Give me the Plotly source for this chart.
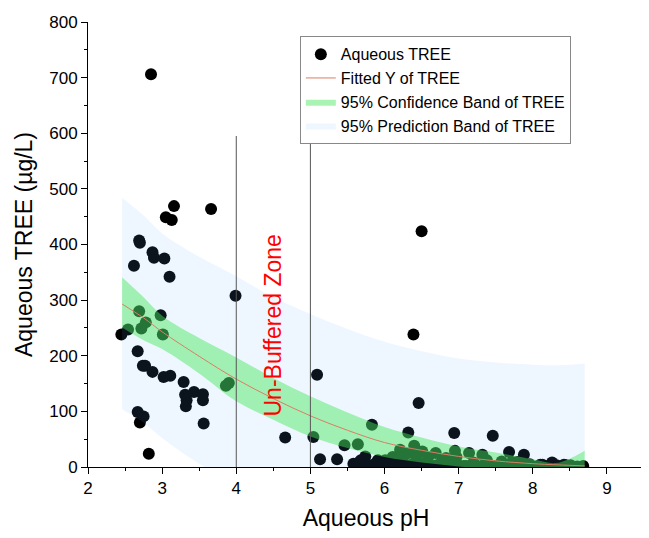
import plotly.graph_objects as go

# ---- measured samples: aqueous pH vs TREE (ug/L) ----
ph = [2.85, 3.16, 3.05, 3.13, 3.66, 2.69, 2.70, 2.87, 2.89, 3.03, 2.62, 3.10, 3.99,
      2.69, 2.54, 2.45, 2.72, 2.78, 2.98, 3.01,
      2.67, 2.74, 2.77, 2.87, 3.02, 3.11, 3.29, 3.31, 3.43, 3.55, 3.55, 3.33, 3.32,
      3.56, 2.67, 2.75, 2.70, 2.82, 3.86, 3.90,
      4.66, 5.04, 5.09, 5.13, 5.36, 5.46, 5.64, 5.83,
      6.39, 6.50, 6.46, 6.32, 6.94, 7.46, 7.68, 7.88, 8.26, 8.68,
      6.40, 6.21, 6.51, 6.69, 6.95, 6.97, 7.14, 7.32, 7.38, 7.58, 7.20, 6.83, 6.59,
      6.57, 6.78, 7.72, 7.96, 8.10, 6.42, 6.30, 6.11, 7.79, 8.13, 8.42, 8.51, 8.32,
      6.25, 6.44,
      5.58, 5.68, 5.74, 5.65, 5.87, 5.91, 6.01, 6.06, 6.16, 6.25, 6.35, 5.97, 5.82,
      6.50, 6.64, 6.83, 7.07, 7.31, 7.55, 7.79, 5.64, 5.90, 6.00,
      5.70, 5.78, 5.95, 6.05, 6.12, 6.20, 6.28, 6.38, 6.45, 6.55, 6.62, 6.70, 6.75,
      6.88, 6.92, 7.00, 7.10, 7.18, 7.25, 7.40, 7.48, 7.62, 7.70, 7.85, 7.92, 8.05,
      8.20, 8.35, 8.45, 8.60]
tree = [706, 469, 449, 444, 464, 407, 403, 386, 376, 375, 362, 342, 308,
        280, 247, 238, 249, 260, 273, 238,
        208, 182, 182, 171, 162, 164, 153, 130, 135, 131, 120, 120, 109,
        78, 99, 91, 80, 24, 146, 151,
        53, 54, 166, 14, 14, 39, 41, 76,
        238, 424, 115, 62, 61, 56, 27, 22, 8, 2,
        38, 31, 28, 25, 29, 18, 25, 22, 12, 10, 8, 16, 18,
        9, 12, 9, 5, 4, 21, 24, 18, 9, 4, 4, 3, 3,
        18, 12,
        6, 12, 19, 2, 6, 12, 12, 9, 6, 4, 3, 3, 2,
        3, 2, 2, 2, 2, 2, 2, 7, 7, 9,
        4, 3, 5, 2, 4, 3, 1, 5, 2, 4, 1, 3, 2,
        4, 1, 3, 2, 4, 1, 3, 2, 4, 1, 3, 2, 1,
        2, 1, 3, 1]

# ---- fitted curve and 95% bands ----
fit_ph = [2.46, 2.75, 3.0, 3.5, 4.0, 4.5, 5.0, 5.5, 6.0, 6.5, 7.0, 7.5, 8.0, 8.3, 8.5, 8.7]
fit_y = [293, 268, 243, 199, 158, 123, 92, 66, 44, 30, 19, 11, 6, 4, 3, 2]
conf_hi = [341, 305, 272, 232, 197, 160, 127, 98, 72, 53, 37, 26, 14, 7, 15, 29]
conf_lo = [251, 228, 212, 168, 118, 85, 55, 34, 18, 8, 1, -5, -10, -12, -14, -25]
pred_hi = [484, 452, 420, 378, 343, 305, 275, 248, 225, 208, 195, 188, 184, 183, 184, 186]
pred_lo = [104, 80, 52, 6, -30, -60, -90, -115, -135, -150, -160, -165, -170, -172, -175, -180]

# un-buffered zone boundaries
zone_ph = [4.0, 5.0]
zone_top = [595, 589]

font = "Liberation Sans, Arial, sans-serif"
fig = go.Figure()

fig.add_trace(go.Scatter(
    x=ph, y=tree, mode="markers", name="Aqueous TREE", legendrank=1,
    marker=dict(color="black", size=12, line=dict(width=0))))

# prediction band: lower edge, then upper edge filled down to it
fig.add_trace(go.Scatter(
    x=fit_ph, y=pred_lo, mode="lines", line=dict(width=0, shape="spline"),
    showlegend=False, hoverinfo="skip"))
fig.add_trace(go.Scatter(
    x=fit_ph, y=pred_hi, fill="tonexty", mode="lines",
    line=dict(width=0, shape="spline"), fillcolor="rgba(100,180,255,0.11)",
    name="95% Prediction Band of TREE", legendrank=4))

# confidence band
fig.add_trace(go.Scatter(
    x=fit_ph, y=conf_lo, mode="lines", line=dict(width=0, shape="spline"),
    showlegend=False, hoverinfo="skip"))
fig.add_trace(go.Scatter(
    x=fit_ph, y=conf_hi, fill="tonexty", mode="lines",
    line=dict(width=0, shape="spline"), fillcolor="rgba(70,230,90,0.46)",
    name="95% Confidence Band of TREE", legendrank=3))

fig.add_trace(go.Scatter(
    x=fit_ph, y=fit_y, mode="lines", name="Fitted Y of TREE", legendrank=2,
    line=dict(color="rgb(220,125,100)", width=1, shape="spline")))

for zx, zt in zip(zone_ph, zone_top):
    fig.add_trace(go.Scatter(x=[zx, zx], y=[0, zt], mode="lines", showlegend=False,
                             line=dict(color="#555555", width=1), hoverinfo="skip"))

fig.add_annotation(x=4.5, y=255, text="Un-Buffered Zone", textangle=-90,
                   showarrow=False, font=dict(color="red", size=23, family=font))

fig.update_layout(
    width=641, height=530,
    margin=dict(l=80, r=5, t=10, b=71),
    plot_bgcolor="white", paper_bgcolor="white",
    font=dict(family=font, color="black"),
    legend=dict(x=0.381, y=0.968, xanchor="left", yanchor="top",
                bgcolor="white", bordercolor="#888888", borderwidth=1,
                font=dict(size=16, family=font), traceorder="normal",
                tracegroupgap=0),
)
fig.update_xaxes(range=[2, 9.5], dtick=1, showline=True, linecolor="black",
                 ticks="outside", ticklen=6, tickcolor="black", showgrid=False,
                 zeroline=False, tickfont=dict(size=17),
                 minor=dict(dtick=0.5, ticks="outside", ticklen=3, tickcolor="black"),
                 title=dict(text="Aqueous pH", font=dict(size=23), standoff=12))
fig.update_yaxes(range=[0, 800], dtick=100, showline=True, linecolor="black",
                 ticks="outside", ticklen=6, tickcolor="black", showgrid=False,
                 zeroline=False, tickfont=dict(size=17), ticklabeloverflow="allow",
                 minor=dict(dtick=50, ticks="outside", ticklen=3, tickcolor="black"),
                 title=dict(text="Aqueous TREE (µg/L)", font=dict(size=23), standoff=10))

fig.write_html("out.html")
